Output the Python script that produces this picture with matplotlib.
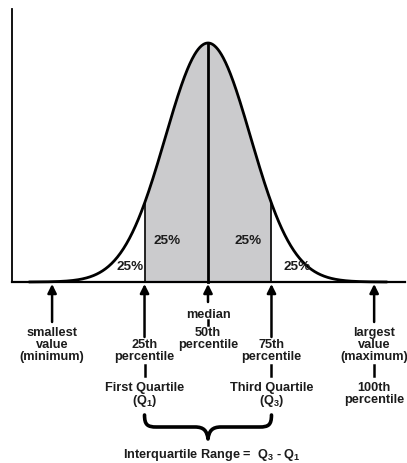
import numpy as np
import matplotlib.pyplot as plt
from matplotlib.path import Path
from matplotlib.patches import PathPatch

plt.rcParams['font.family'] = ['Liberation Sans Narrow', 'Liberation Sans', 'DejaVu Sans']
plt.rcParams['font.weight'] = 'bold'
plt.rcParams['mathtext.default'] = 'regular'

# data (x in standard-deviation units, median at 0)
marker_x = [-3.66, -1.49, 0.0, 1.49, 3.9]
q1, median, q3 = -1.49, 0.0, 1.49
pct_labels = ["25%", "25%", "25%", "25%"]
pct_x = [-1.83, -0.97, 0.94, 2.1]
pct_y = [0.065, 0.176, 0.176, 0.065]

# pixel layout helpers
SX, X0, SY, Y0 = 42.6, 208, 239, 283
def px(c):
    return (c - X0) / SX
def py(r):
    return (Y0 - r) / SY

TXT = '#1c1c1c'
FS = 9.2

fig = plt.figure(figsize=(4.07, 4.64), dpi=100)
ax = fig.add_axes([0, 0, 1, 1])
ax.set_xlim(px(0), px(407))
ax.set_ylim(py(464), py(0))
ax.axis('off')

# axes lines
ax.plot([px(12), px(12)], [0, py(10)], color='black', lw=1.3)
ax.plot([px(12), px(405)], [0, 0], color='black', lw=1.6)

# normal curve
xs = np.linspace(-4.2, 4.2, 600)
ys = np.exp(-xs ** 2 / 2)
m = (xs >= q1) & (xs <= q3)
ax.fill_between(xs[m], 0, ys[m], color='#cbcbcd', lw=0)
ax.plot(xs, ys, color='black', lw=2.0, solid_capstyle='round')
for xq, lw in [(q1, 1.2), (median, 2.0), (q3, 1.2)]:
    ax.plot([xq, xq], [0, np.exp(-xq ** 2 / 2)], color='black', lw=lw)

for t, x, y in zip(pct_labels, pct_x, pct_y):
    ax.text(x, y, t, ha='center', va='center', fontsize=FS + 0.5, color=TXT)

# arrows
tails = [323, 338, 303, 338, 323]
for x, tail in zip(marker_x, tails):
    ax.annotate('', xy=(x, py(285)), xytext=(x, py(tail)),
                arrowprops=dict(arrowstyle='-|>', lw=1.8, color='black',
                                mutation_scale=13, shrinkA=0, shrinkB=0))

def lines(x, items):
    for row, t in items:
        ax.text(x, py(row), t, ha='center', va='center', fontsize=FS,
                color=TXT, linespacing=1.0)

def tick(x, r0, r1, lw=1.8):
    ax.plot([x, x], [py(r0), py(r1)], color='black', lw=lw)

lines(marker_x[0], [(333, 'smallest'), (345, 'value'), (357, '(minimum)')])
lines(marker_x[1], [(345, '25th'), (357, 'percentile'),
                    (388, 'First Quartile'), (401, '(Q$_1$)')])
tick(marker_x[1], 366, 377)
lines(marker_x[2], [(315, 'median'), (333, '50th'), (345, 'percentile')])
tick(marker_x[2], 321, 326)
lines(marker_x[3], [(345, '75th'), (357, 'percentile'),
                    (388, 'Third Quartile'), (401, '(Q$_3$)')])
tick(marker_x[3], 366, 377)
lines(marker_x[4], [(333, 'largest'), (345, 'value'), (357, '(maximum)'),
                    (388, '100th'), (400, 'percentile')])
tick(marker_x[4], 366, 377)

# brace under the interquartile range
a, b = q1 * SX + X0, q3 * SX + X0
c = (a + b) / 2
pts = [(a, 416), (a, 426), (a + 3, 428), (a + 12, 428),
       (c - 13, 428),
       (c - 4, 428), (c - 1, 432), (c, 440),
       (c + 1, 432), (c + 4, 428), (c + 13, 428),
       (b - 12, 428),
       (b - 3, 428), (b, 426), (b, 416)]
codes = [Path.MOVETO, Path.CURVE4, Path.CURVE4, Path.CURVE4,
         Path.LINETO,
         Path.CURVE4, Path.CURVE4, Path.CURVE4,
         Path.CURVE4, Path.CURVE4, Path.CURVE4,
         Path.LINETO,
         Path.CURVE4, Path.CURVE4, Path.CURVE4]
verts = [(px(p[0]), py(p[1])) for p in pts]
ax.add_patch(PathPatch(Path(verts, codes), fill=False, lw=2.6,
                       edgecolor='black', capstyle='round', joinstyle='round'))

ax.text(px(212), py(455), 'Interquartile Range =  Q$_3$ - Q$_1$',
        ha='center', va='center', fontsize=FS, color=TXT)

fig.savefig('out.png', dpi=100)
